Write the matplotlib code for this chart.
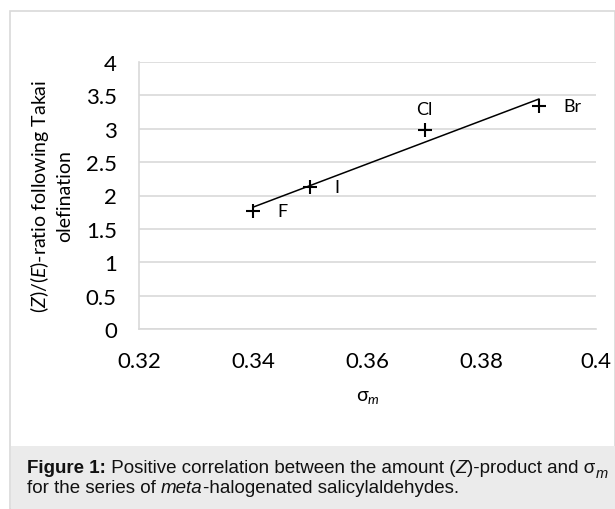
import matplotlib
matplotlib.use("Agg")
from matplotlib import pyplot as plt
from matplotlib.patches import Rectangle
import numpy as np

# sigma_m values and (Z)/(E) ratios
halogens = ["F", "I", "Cl", "Br"]
sigma_m = [0.34, 0.35, 0.37, 0.39]
ze_ratio = [1.77, 2.13, 2.98, 3.34]
label_pos = ["right", "right", "above", "right"]

x_ticks = [0.32, 0.34, 0.36, 0.38, 0.4]
x_tick_labels = ["0.32", "0.34", "0.36", "0.38", "0.4"]
y_ticks = [0, 0.5, 1, 1.5, 2, 2.5, 3, 3.5, 4]
y_tick_labels = ["0", "0.5", "1", "1.5", "2", "2.5", "3", "3.5", "4"]

plt.rcParams["font.family"] = ["Lato", "DejaVu Sans"]
plt.rcParams["mathtext.fontset"] = "custom"
plt.rcParams["mathtext.rm"] = "Lato"
plt.rcParams["mathtext.it"] = "Lato:italic"

W, H = 615, 510
fig = plt.figure(figsize=(W / 100, H / 100), dpi=100)

def px(x, y):
    # pixel coords (from top-left) -> figure fraction
    return x / W, 1 - y / H

grid_col = "#d9d9d9"

# outer frame and caption box
fig.patches.append(Rectangle(px(10, 510), (W - 10) / W, (510 - 12) / H,
                             transform=fig.transFigure, facecolor="white",
                             edgecolor=grid_col, linewidth=1.2, zorder=-3))
fig.patches.append(Rectangle(px(11, 510), (W - 11) / W, (510 - 447) / H,
                             transform=fig.transFigure, facecolor="#ebebeb",
                             edgecolor="none", zorder=-2))

l, b = px(139, 330)
r, t = px(596, 63)
ax = fig.add_axes([l, b, r - l, t - b])
ax.set_facecolor("none")

ax.set_xlim(0.32, 0.4)
ax.set_ylim(0, 4)
ax.set_xticks(x_ticks)
ax.set_xticklabels(x_tick_labels)
ax.set_yticks(y_ticks)
ax.set_yticklabels(y_tick_labels)
ax.tick_params(length=0, labelsize=16, colors="black")
ax.tick_params(axis="y", pad=16)
ax.tick_params(axis="x", pad=16)
ax.grid(axis="y", color=grid_col, linewidth=1.2)
ax.set_axisbelow(True)
for s in ["top", "right"]:
    ax.spines[s].set_visible(False)
for s in ["left", "bottom"]:
    ax.spines[s].set_color(grid_col)
    ax.spines[s].set_linewidth(1.2)

# linear trend line through the points
k, c = np.polyfit(sigma_m, ze_ratio, 1)
xs = np.array([min(sigma_m), max(sigma_m)])
ax.plot(xs, k * xs + c, color="black", linewidth=1.1, zorder=3)

ax.plot(sigma_m, ze_ratio, linestyle="none", marker="+", markersize=10,
        markeredgewidth=1.5, color="black", zorder=4, clip_on=False)

for name, xv, yv, pos in zip(halogens, sigma_m, ze_ratio, label_pos):
    if pos == "above":
        ax.annotate(name, (xv, yv), xytext=(0, 15), textcoords="offset points",
                    ha="center", va="center", fontsize=13)
    else:
        ax.annotate(name, (xv, yv), xytext=(17.5, 0), textcoords="offset points",
                    ha="left", va="center", fontsize=13)

ax.set_xlabel("σ$_{m}$", fontsize=14, labelpad=12)
ax.set_ylabel("($\\it{Z}$)/($\\it{E}$)-ratio following Takai\nolefination",
              fontsize=14, labelpad=9, linespacing=1.4)

# caption, built from pieces so bold / italic parts line up
cap = dict(family="Liberation Sans", fontsize=13.5, color="#111111")

def after(prev, s, style="normal", **kw):
    opts = dict(cap)
    opts.update(kw)
    return ax.annotate(s, xy=(1, 0), xycoords=prev, va="bottom", ha="left",
                       style=style, annotation_clip=False, **opts)

t1 = fig.text(*px(27, 473), "Figure 1:", fontweight="bold", va="baseline", **cap)
p = after(t1, " Positive correlation between the amount (")
p = after(p, "Z", "italic")
p = after(p, ")-product and σ")
ax.annotate("m", xy=(1, 0), xycoords=p, xytext=(0.3, -3),
            textcoords="offset points", va="bottom", ha="left",
            style="italic", annotation_clip=False,
            family="Liberation Sans", fontsize=10.5, color="#111111")

t2 = fig.text(*px(27, 493), "for the series of ", va="baseline", **cap)
p = after(t2, "meta", "italic")
p = after(p, "-halogenated salicylaldehydes.")

plt.savefig("out.png", dpi=100)
